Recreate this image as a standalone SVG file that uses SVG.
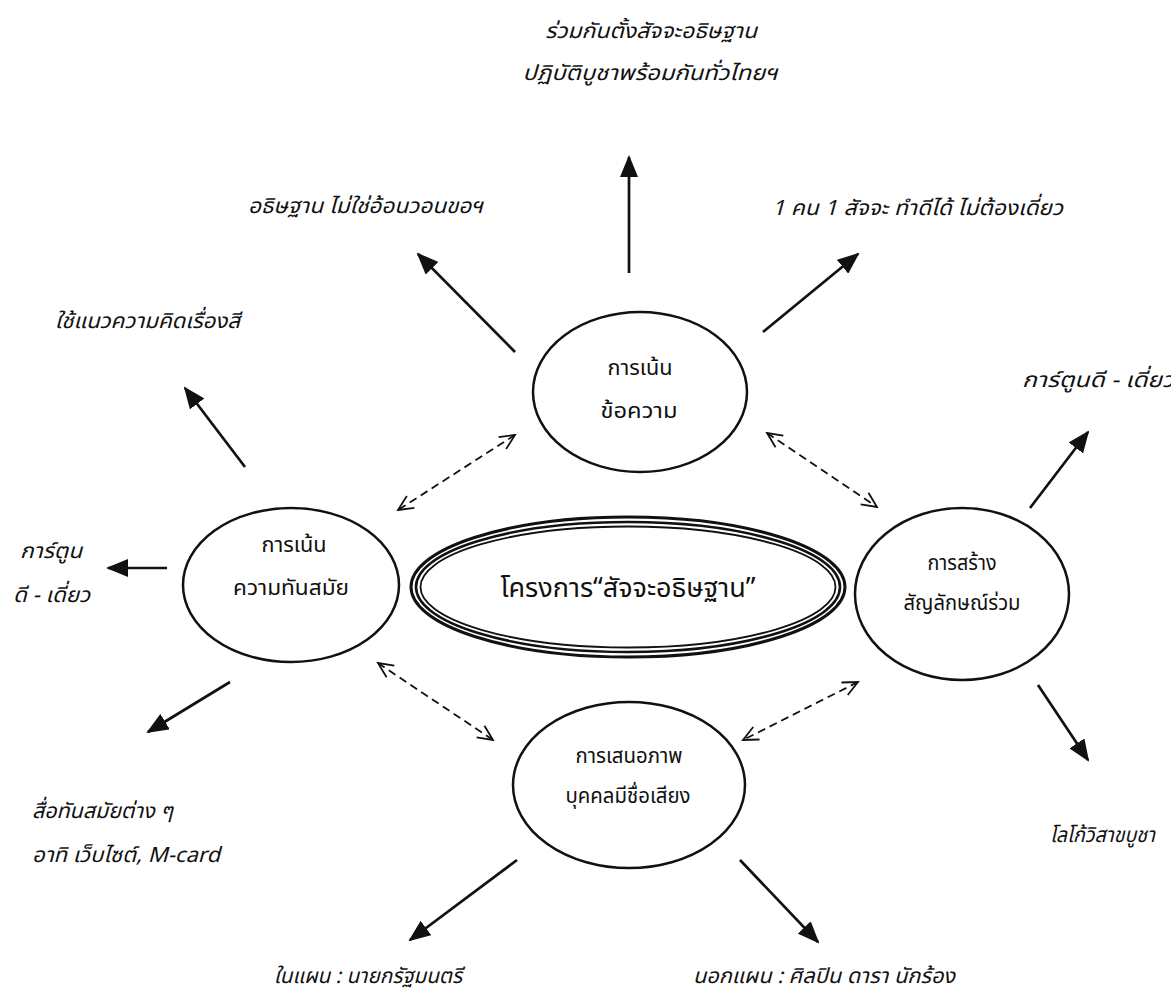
<svg xmlns="http://www.w3.org/2000/svg" width="1171" height="997" viewBox="0 0 1171 997">
  <style>
    text { font-family: "Noto Sans Thai", "Loma", "Garuda", "Liberation Sans", sans-serif; fill: #111; }
    .lbl { font-size: 21px; font-style: italic; }
    .node-text { font-size: 21px; text-anchor: middle; }
    .node { fill: none; stroke: #111; stroke-width: 2.5; }
    .solid { stroke: #111; stroke-width: 2.7; fill: none; marker-end: url(#head); }
    .dash { stroke: #111; stroke-width: 1.8; fill: none; stroke-dasharray: 8 5; marker-start: url(#vee); marker-end: url(#vee); }
  </style>
  <defs>
    <marker id="head" viewBox="0 0 22 18" refX="20" refY="9" markerWidth="22" markerHeight="18" markerUnits="userSpaceOnUse" orient="auto">
      <path d="M0,0 L22,9 L0,18 Z" fill="#111"/>
    </marker>
    <marker id="vee" viewBox="0 0 18 16" refX="16" refY="8" markerWidth="18" markerHeight="16" markerUnits="userSpaceOnUse" orient="auto-start-reverse">
      <path d="M1,1 L16,8 L1,15" fill="none" stroke="#111" stroke-width="1.8"/>
    </marker>
  </defs>
  <rect width="1171" height="997" fill="#fff"/>

  <!-- heading -->
  <g id="title">
    <text class="lbl" x="651" y="38" text-anchor="middle" textLength="212" lengthAdjust="spacingAndGlyphs">ร่วมกันตั้งสัจจะอธิษฐาน</text>
    <text class="lbl" x="650" y="80" text-anchor="middle" textLength="255" lengthAdjust="spacingAndGlyphs">ปฏิบัติบูชาพร้อมกันทั่วไทยฯ</text>
  </g>

  <!-- connectors -->
  <g id="connectors">
    <line class="solid" x1="629" y1="273" x2="629" y2="157"/>
    <line class="solid" x1="515" y1="352" x2="418" y2="254"/>
    <line class="solid" x1="763" y1="332" x2="858" y2="254"/>
    <line class="solid" x1="245" y1="467" x2="185" y2="388"/>
    <line class="solid" x1="167" y1="568" x2="108" y2="568"/>
    <line class="solid" x1="230" y1="682" x2="148" y2="732"/>
    <line class="solid" x1="1030" y1="508" x2="1088" y2="432"/>
    <line class="solid" x1="1038" y1="685" x2="1088" y2="760"/>
    <line class="solid" x1="517" y1="860" x2="410" y2="940"/>
    <line class="solid" x1="740" y1="860" x2="818" y2="942"/>
    <line class="dash" x1="515" y1="435" x2="398" y2="510"/>
    <line class="dash" x1="767" y1="433" x2="877" y2="507"/>
    <line class="dash" x1="378" y1="663" x2="493" y2="740"/>
    <line class="dash" x1="858" y1="682" x2="743" y2="740"/>
  </g>

  <!-- central project ellipse with triple outline -->
  <g id="project">
    <ellipse cx="628" cy="587" rx="217" ry="70" fill="none" stroke="#111" stroke-width="3"/>
    <ellipse cx="628" cy="587" rx="212" ry="65" fill="none" stroke="#111" stroke-width="2.6"/>
    <ellipse cx="628" cy="587" rx="207.5" ry="60.5" fill="none" stroke="#111" stroke-width="1.8"/>
    <text x="628" y="597" text-anchor="middle" style="font-size:27px">โครงการ“สัจจะอธิษฐาน”</text>
  </g>

  <g id="message">
    <ellipse class="node" cx="640" cy="392" rx="107" ry="80"/>
    <text class="node-text" x="640" y="375" textLength="65" lengthAdjust="spacingAndGlyphs">การเน้น</text>
    <text class="node-text" x="639" y="418" textLength="77" lengthAdjust="spacingAndGlyphs">ข้อความ</text>
  </g>

  <g id="modern">
    <ellipse class="node" cx="291" cy="585" rx="108" ry="77"/>
    <text class="node-text" x="294" y="552" textLength="65" lengthAdjust="spacingAndGlyphs">การเน้น</text>
    <text class="node-text" x="291" y="595" textLength="116" lengthAdjust="spacingAndGlyphs">ความทันสมัย</text>
  </g>

  <g id="symbol">
    <ellipse class="node" cx="962" cy="594" rx="107" ry="86"/>
    <text class="node-text" x="962" y="570" textLength="69" lengthAdjust="spacingAndGlyphs">การสร้าง</text>
    <text class="node-text" x="962" y="610" textLength="117" lengthAdjust="spacingAndGlyphs">สัญลักษณ์ร่วม</text>
  </g>

  <g id="celebrity">
    <ellipse class="node" cx="629" cy="785" rx="116" ry="83"/>
    <text class="node-text" x="629" y="763" textLength="107" lengthAdjust="spacingAndGlyphs">การเสนอภาพ</text>
    <text class="node-text" x="628" y="803" textLength="125" lengthAdjust="spacingAndGlyphs">บุคคลมีชื่อเสียง</text>
  </g>

  <!-- outer labels -->
  <g id="labels">
    <text class="lbl" x="248" y="213" textLength="235" lengthAdjust="spacingAndGlyphs">อธิษฐาน ไม่ใช่อ้อนวอนขอฯ</text>
    <text class="lbl" x="772" y="215" textLength="291" lengthAdjust="spacingAndGlyphs">1 คน 1 สัจจะ ทำดีได้ ไม่ต้องเดี่ยว</text>
    <text class="lbl" x="55" y="328" textLength="185" lengthAdjust="spacingAndGlyphs">ใช้แนวความคิดเรื่องสี</text>
    <text class="lbl" x="20" y="558" textLength="62" lengthAdjust="spacingAndGlyphs">การ์ตูน</text>
    <text class="lbl" x="13" y="602" textLength="77" lengthAdjust="spacingAndGlyphs">ดี - เดี่ยว</text>
    <text class="lbl" x="1022" y="387" textLength="152" lengthAdjust="spacingAndGlyphs">การ์ตูนดี - เดี่ยว</text>
    <text class="lbl" x="32" y="818" textLength="141" lengthAdjust="spacingAndGlyphs">สื่อทันสมัยต่าง ๆ</text>
    <text class="lbl" x="32" y="862" textLength="188" lengthAdjust="spacingAndGlyphs">อาทิ เว็บไซต์, M-card</text>
    <text class="lbl" x="1050" y="842" textLength="105" lengthAdjust="spacingAndGlyphs">โลโก้วิสาขบูชา</text>
    <text class="lbl" x="274" y="983" textLength="188" lengthAdjust="spacingAndGlyphs">ในแผน : นายกรัฐมนตรี</text>
    <text class="lbl" x="693" y="983" textLength="262" lengthAdjust="spacingAndGlyphs">นอกแผน : ศิลปิน ดารา นักร้อง</text>
  </g>
</svg>
